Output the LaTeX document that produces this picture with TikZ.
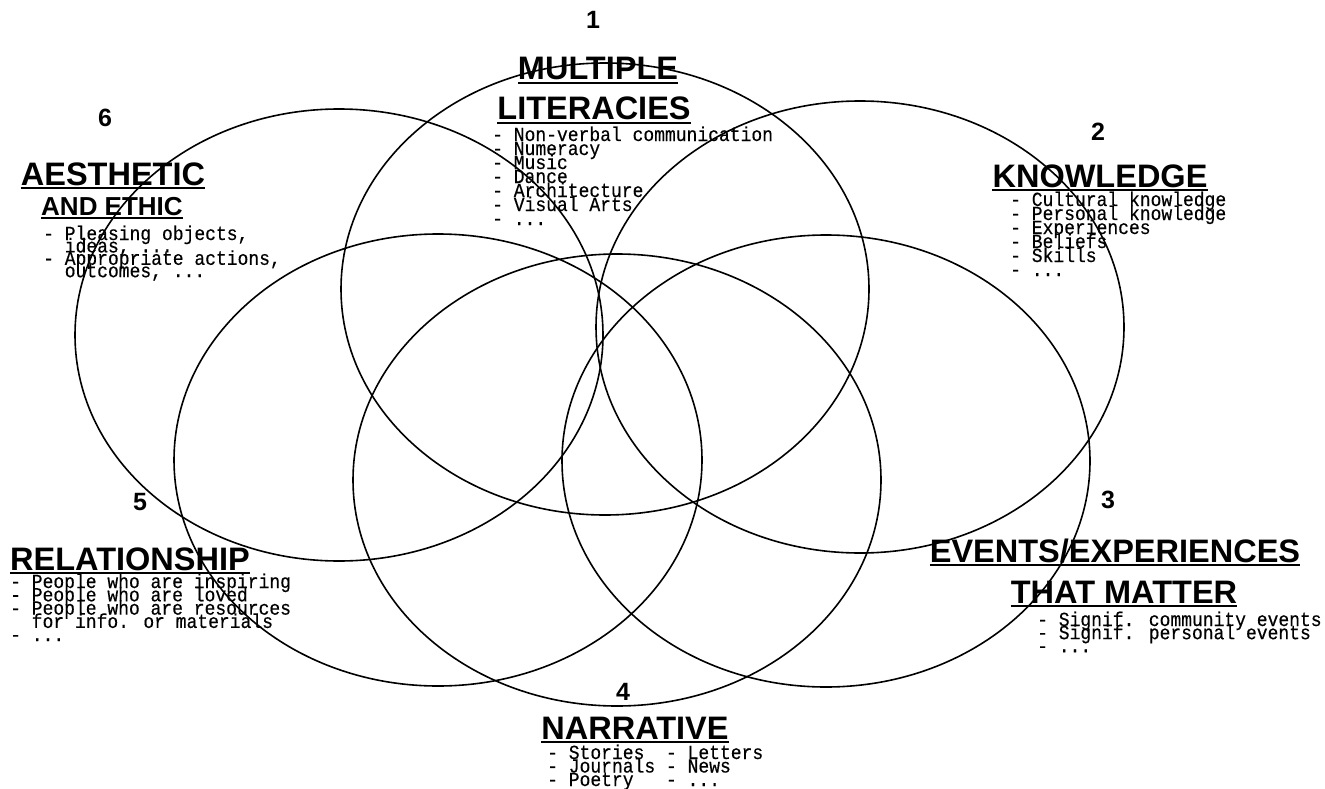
\documentclass[tikz,border=0pt]{standalone}
\usepackage{fontspec}
\usetikzlibrary{shapes.geometric}
\newfontfamily\hdfont{Liberation Sans}
\newfontfamily\monof[FakeStretch=0.9,FakeBold=0.4]{Liberation Mono}
\begin{document}
\begin{tikzpicture}[x=1pt,y=-1pt,
  ell/.style={draw, ellipse, minimum width=528pt, minimum height=452pt, inner sep=0pt, line width=1.6pt},
  hd/.style={font={\hdfont\bfseries\fontsize{32.5}{36}\selectfont}, anchor=base, inner sep=0pt},
  hds/.style={font={\hdfont\bfseries\fontsize{26}{30}\selectfont}, anchor=base, inner sep=0pt},
  num/.style={font={\hdfont\bfseries\fontsize{25}{28}\selectfont}, inner sep=0pt},
  li/.style={font={\monof\fontsize{20}{14}\selectfont\lineskiplimit=-100pt}, anchor=base west, align=left, inner sep=0pt},
  ul/.style={line width=2pt}]
\useasboundingbox (0,0) rectangle (1325,789);
% ellipses
\node[ell] (eA) at (605,289) {};
\node[ell] (eB) at (860,327) {};
\node[ell] (eC) at (826,461) {};
\node[ell] (eD) at (617,480) {};
\node[ell] (eE) at (438,460) {};
\node[ell] (eF) at (339,335) {};
% 1
\node[num] (n1) at (593,20) {1};
\node[hd] (h1a) at (598,80) {MULTIPLE};
\node[hd] (h1b) at (594,120) {LITERACIES};
\node[li] (l1) at (492,225) {- Non-verbal communication\\- Numeracy\\- Music\\- Dance\\- Architecture\\- Visual Arts\\- ...};
% 6
\node[num] (n6) at (105,118) {6};
\node[hd] (h6a) at (113,185) {AESTHETIC};
\node[hds] (h6b) at (112,215) {AND ETHIC};
\node[li, font={\monof\fontsize{20}{12.4}\selectfont\lineskiplimit=-100pt}] (l6) at (43,277.2) {- Pleasing objects,\\\hspace*{21.6pt}ideas, ...\\- Appropriate actions,\\\hspace*{21.6pt}outcomes, ...};
% 2
\node[num] (n2) at (1098,132) {2};
\node[hd] (h2) at (1100,187) {KNOWLEDGE};
\node[li] (l2) at (1010,276) {- Cultural knowledge\\- Personal knowledge\\- Experiences\\- Beliefs\\- Skills\\- ...};
% 3
\node[num] (n3) at (1108,500) {3};
\node[hd] (h3a) at (1115,562) {EVENTS/EXPERIENCES};
\node[hd] (h3b) at (1124,603) {THAT MATTER};
\node[li, font={\monof\fontsize{20}{13.2}\selectfont\lineskiplimit=-100pt}] (l3) at (1037,652.4) {- Signif. community events\\- Signif. personal events\\- ...};
% 4
\node[num] (n4) at (623,692) {4};
\node[hd] (h4) at (635,739) {NARRATIVE};
\node[li, font={\monof\fontsize{20}{13.5}\selectfont\lineskiplimit=-100pt}] (l4a) at (547,786) {- Stories\\- Journals\\- Poetry};
\node[li, font={\monof\fontsize{20}{13.5}\selectfont\lineskiplimit=-100pt}] (l4b) at (665.8,786) {- Letters\\- News\\- ...};
% 5
\node[num] (n5) at (140,502) {5};
\node[hd] (h5) at (130,570) {RELATIONSHIP};
\node[li, font={\monof\fontsize{20}{13.3}\selectfont\lineskiplimit=-100pt}] (l5) at (10,641.2) {- People who are inspiring\\- People who are loved\\- People who are resources\\\hspace*{21.6pt}for info. or materials\\- ...};
% underlines
\foreach \h in {h1a,h1b,h6a,h6b,h2,h3a,h3b,h4,h5}
  \draw[ul] ([yshift=-3pt]\h.base west) -- ([yshift=-3pt]\h.base east);
\end{tikzpicture}
\end{document}
